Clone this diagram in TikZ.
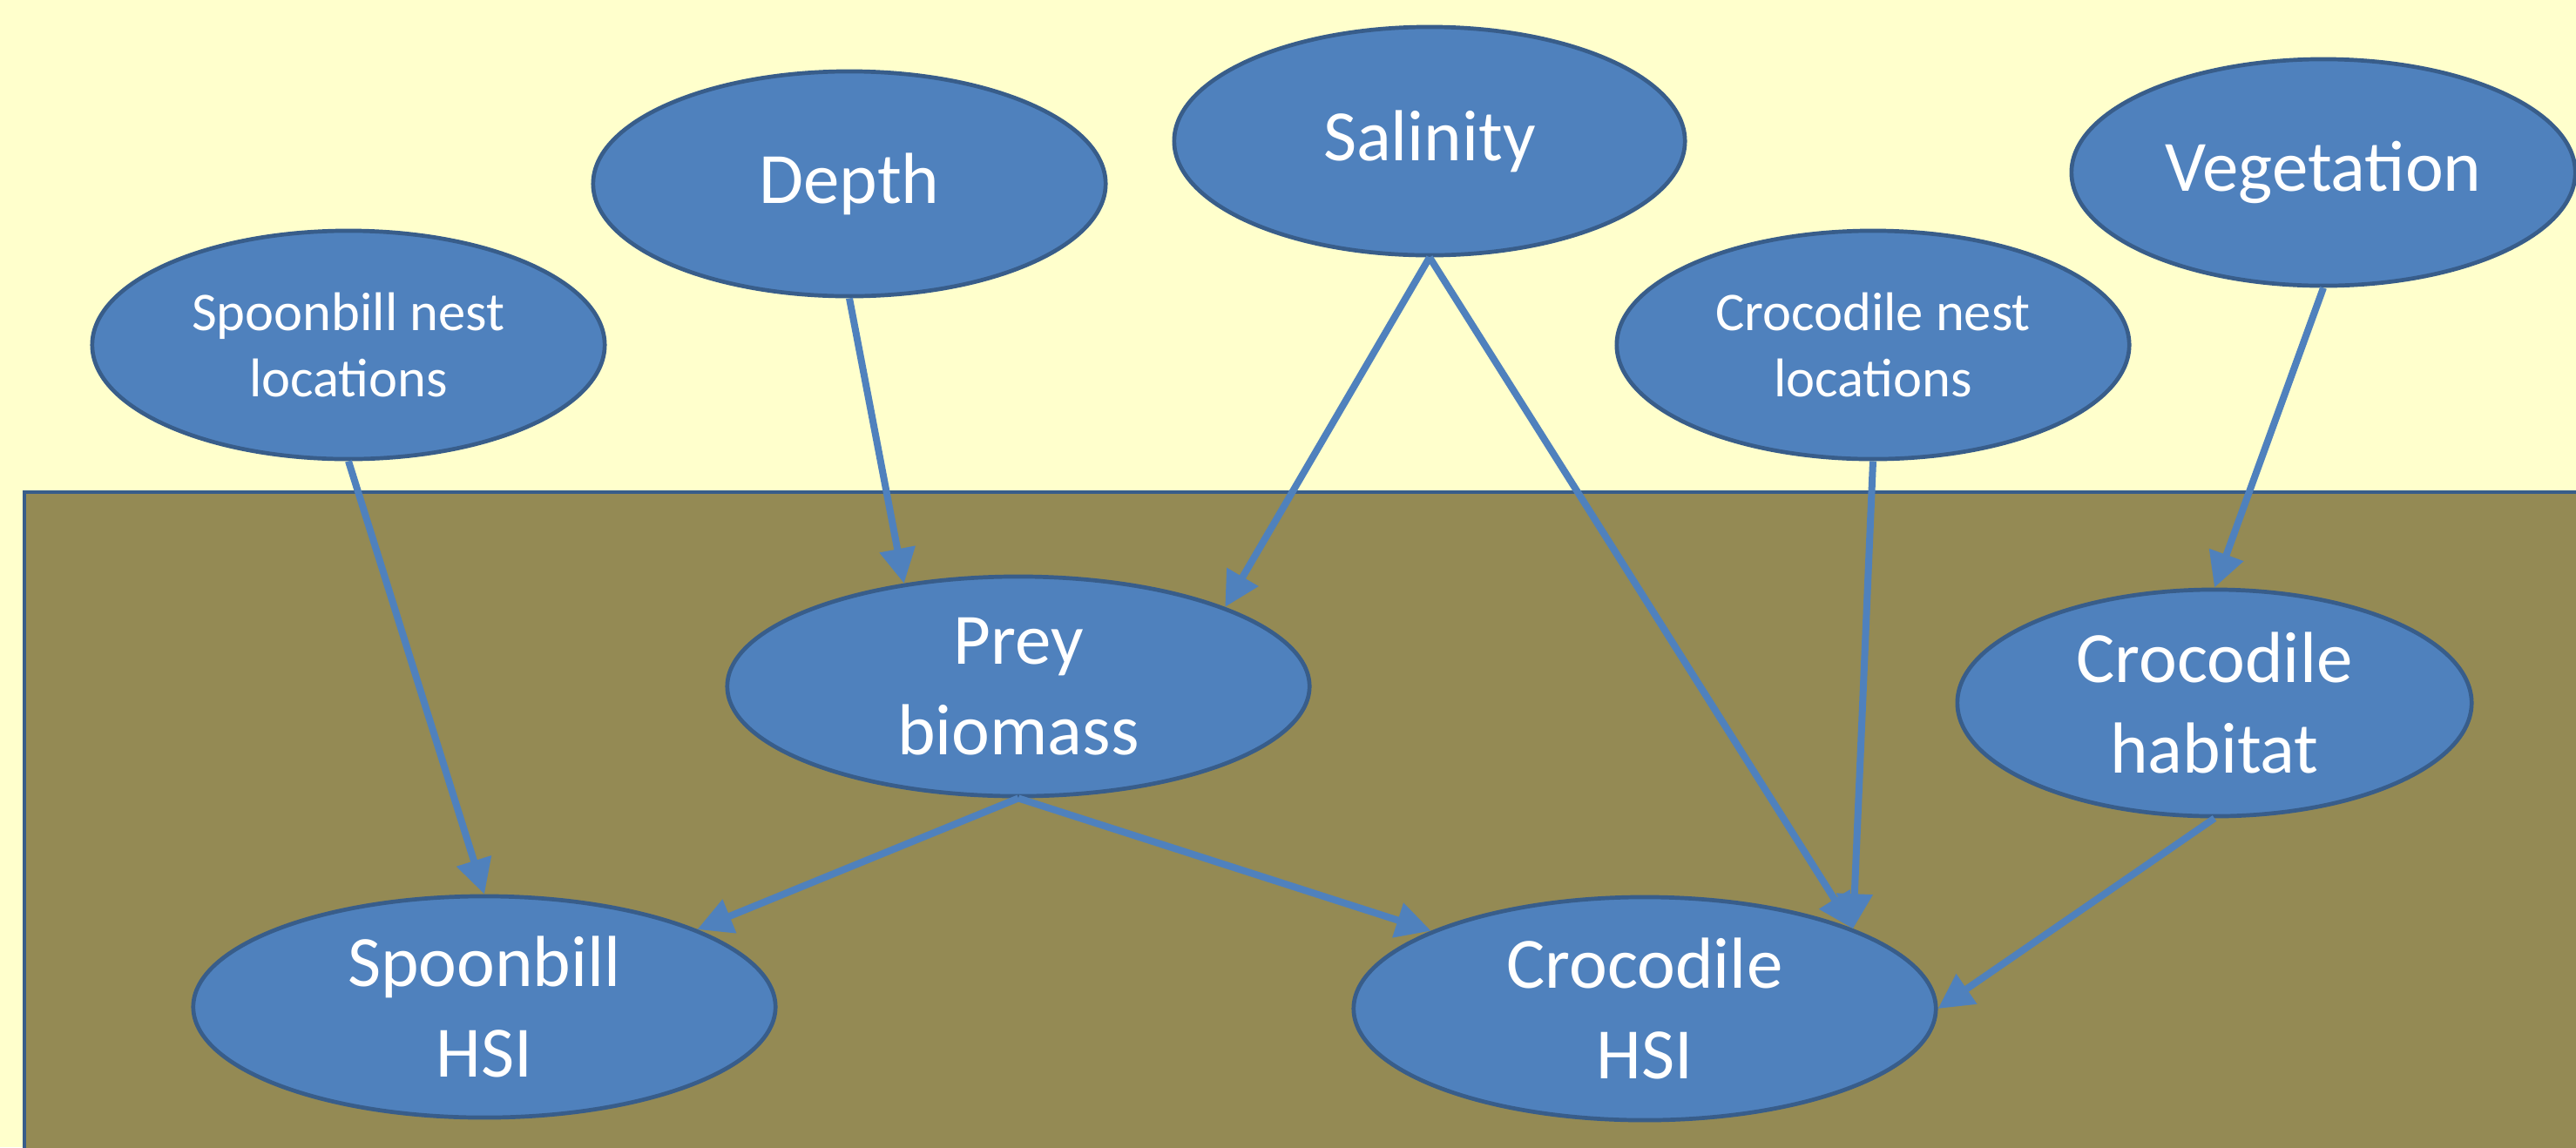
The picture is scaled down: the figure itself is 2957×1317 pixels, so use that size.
\documentclass[tikz,border=0pt]{standalone}
\usepackage{fontspec}
\setmainfont{Carlito}
\usetikzlibrary{shapes.geometric,arrows.meta}
\definecolor{bgyellow}{HTML}{FFFFCC}
\definecolor{ground}{HTML}{948A54}
\definecolor{nodefill}{HTML}{4F81BD}
\definecolor{nodeline}{HTML}{385D8A}
\tikzset{
  var/.style={ellipse, draw=nodeline, fill=nodefill, line width=0.047cm, text=white,
    inner sep=0pt, align=center},
  bigvar/.style={var, font=\fontsize{23.6pt}{29.5pt}\selectfont},
  smallvar/.style={var, font=\fontsize{17.8pt}{21.6pt}\selectfont},
  link/.style={draw=nodefill, line width=0.08cm, -{Triangle[length=0.4cm,width=0.4cm]}}
}
\begin{document}
\begin{tikzpicture}[x=0.01cm,y=-0.01cm]
\useasboundingbox (0,0) rectangle (2957,1317);
\clip (0,0) rectangle (2957,1317);
\fill[bgyellow] (0,0) rectangle (2957,1317);
\draw[draw=nodeline, fill=ground, line width=0.047cm] (28,565) rectangle (3050,1400);

\node[smallvar, minimum width=5.88cm, minimum height=2.62cm] (sn) at (400,396) {Spoonbill nest\\locations};
\node[bigvar, minimum width=5.88cm, minimum height=2.58cm] (depth) at (975,211) {Depth};
\node[bigvar, minimum width=5.86cm, minimum height=2.62cm] (sal) at (1641,162) {Salinity};
\node[smallvar, minimum width=5.88cm, minimum height=2.62cm] (cn) at (2150,396) {Crocodile nest\\locations};
\node[bigvar, minimum width=5.78cm, minimum height=2.60cm] (veg) at (2667,198) {Vegetation};
\node[bigvar, minimum width=6.68cm, minimum height=2.52cm] (prey) at (1169,788) {Prey\\biomass};
\node[bigvar, minimum width=5.90cm, minimum height=2.60cm] (hab) at (2542,807) {Crocodile\\habitat};
\node[bigvar, minimum width=6.68cm, minimum height=2.54cm] (shsi) at (556,1156) {Spoonbill\\HSI};
\node[bigvar, minimum width=6.68cm, minimum height=2.56cm] (chsi) at (1888,1158) {Crocodile\\HSI};

\draw[link] (sn.south) -- (shsi.north);
\draw[link] (depth.south) -- (prey.138);
\draw[link] (sal.south) -- (prey.21);
\draw[link] (sal.south) -- (chsi.21);
\draw[link] (cn.south) -- (chsi.21);
\draw[link] (veg.south) -- (hab.north);
\draw[link] (prey.south) -- (shsi.20);
\draw[link] (prey.south) -- (chsi.160);
\draw[link] (hab.south) -- (chsi.east);
\end{tikzpicture}
\end{document}
